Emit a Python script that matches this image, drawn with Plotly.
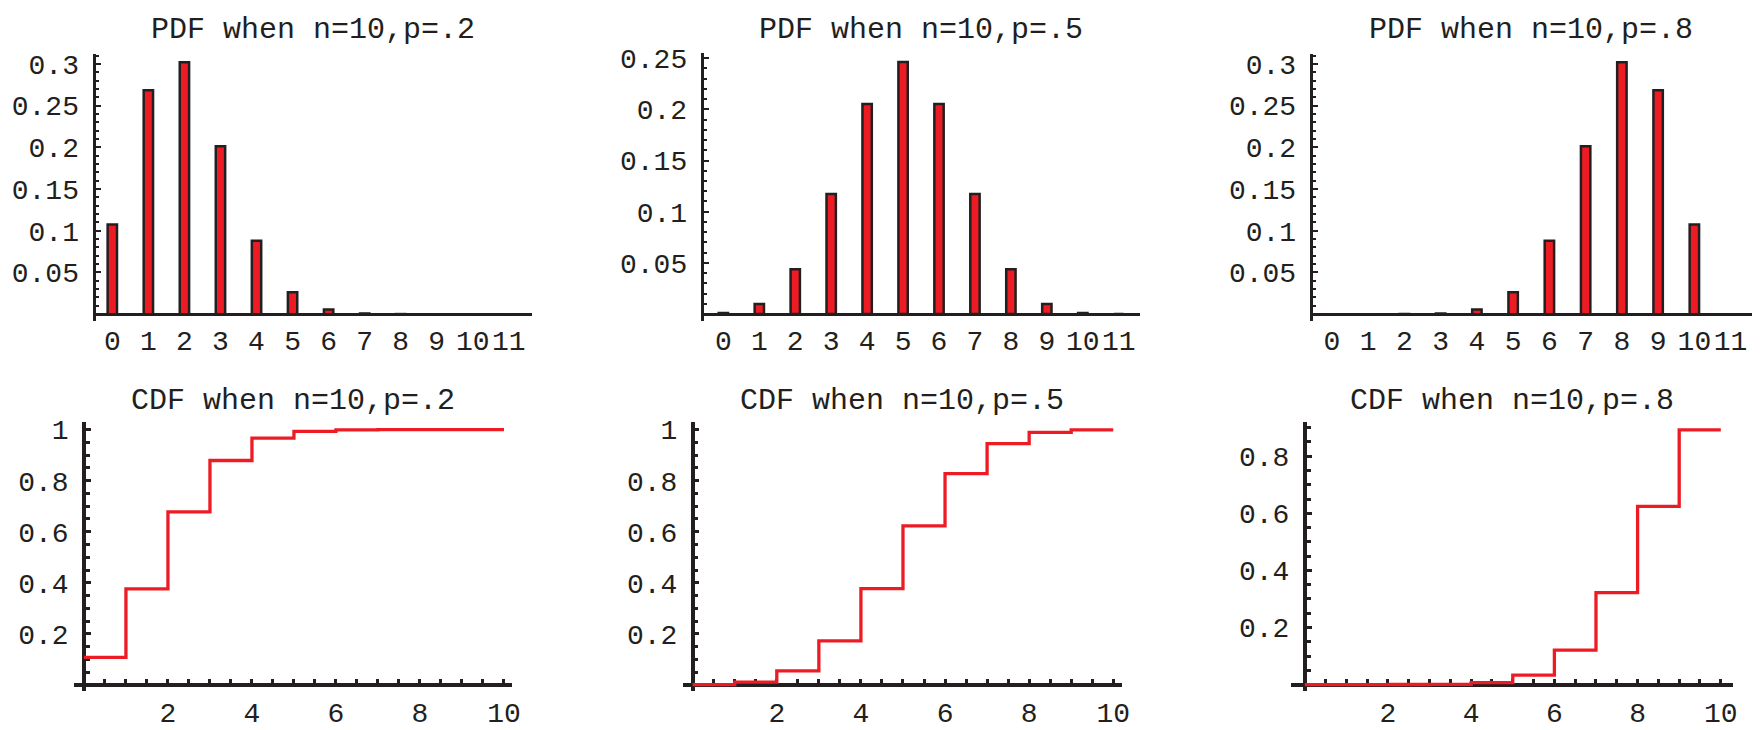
import plotly.graph_objects as go

W, H = 1760, 730

# ---------------- data ----------------
k_values = [0, 1, 2, 3, 4, 5, 6, 7, 8, 9, 10, 11]
k_ticktext = ["0", "1", "2", "3", "4", "5", "6", "7", "8", "9", "10", "11"]

pdf_p2 = [0.1074, 0.2684, 0.3020, 0.2013, 0.0881, 0.0264, 0.0055, 0.0008, 0.0001, 0.0000, 0.0000, 0.0]
pdf_p5 = [0.0010, 0.0098, 0.0439, 0.1172, 0.2051, 0.2461, 0.2051, 0.1172, 0.0439, 0.0098, 0.0010, 0.0]
pdf_p8 = [0.0000, 0.0000, 0.0001, 0.0008, 0.0055, 0.0264, 0.0881, 0.2013, 0.3020, 0.2684, 0.1074, 0.0]

cdf_x = [0, 1, 2, 3, 4, 5, 6, 7, 8, 9, 10]
cdf_p2 = [0.1074, 0.3758, 0.6778, 0.8791, 0.9672, 0.9936, 0.9991, 0.9999, 1.0000, 1.0000, 1.0000]
cdf_p5 = [0.0010, 0.0107, 0.0547, 0.1719, 0.3770, 0.6230, 0.8281, 0.9453, 0.9893, 0.9990, 0.9990]
cdf_p8 = [0.0000, 0.0000, 0.0001, 0.0009, 0.0064, 0.0328, 0.1209, 0.3222, 0.6242, 0.8926, 0.8926]

pdf_yticks_a = [0.05, 0.1, 0.15, 0.2, 0.25, 0.3]
pdf_ytext_a = ["0.05", "0.1", "0.15", "0.2", "0.25", "0.3"]
pdf_yticks_b = [0.05, 0.1, 0.15, 0.2, 0.25]
pdf_ytext_b = ["0.05", "0.1", "0.15", "0.2", "0.25"]

cdf_yticks_a = [0.2, 0.4, 0.6, 0.8, 1.0]
cdf_ytext_a = ["0.2", "0.4", "0.6", "0.8", "1"]
cdf_yticks_b = [0.2, 0.4, 0.6, 0.8]
cdf_ytext_b = ["0.2", "0.4", "0.6", "0.8"]
cdf_xticks = [2, 4, 6, 8, 10]
cdf_xtext = ["2", "4", "6", "8", "10"]

titles = ["PDF when n=10,p=.2", "PDF when n=10,p=.5", "PDF when n=10,p=.8",
          "CDF when n=10,p=.2", "CDF when n=10,p=.5", "CDF when n=10,p=.8"]

# ---------------- style ----------------
RED = "#ED1C24"
DARK = "#231F20"
FONT = "Liberation Mono"
TICK_SIZE = 28
TITLE_SIZE = 30

# panel geometry in pixels (left, right, top, bottom) and axis ranges
panels = [
    dict(kind="pdf", px=(94, 534, 47, 320), xr=(-0.52, 11.63), yr=(-0.0082, 0.312),
         y=pdf_p2, yt=pdf_yticks_a, ytt=pdf_ytext_a),
    dict(kind="pdf", px=(705, 1145.5, 46, 320), xr=(-0.60, 11.60), yr=(-0.0067, 0.255),
         y=pdf_p5, yt=pdf_yticks_b, ytt=pdf_ytext_b),
    dict(kind="pdf", px=(1316.7, 1760, 47, 320), xr=(-0.585, 11.59), yr=(-0.0082, 0.312),
         y=pdf_p8, yt=pdf_yticks_a, ytt=pdf_ytext_a),
    dict(kind="cdf", px=(74.2, 514.7, 423.3, 698), xr=(-0.24, 10.2), yr=(-0.023, 1.03),
         y=cdf_p2, yt=cdf_yticks_a, ytt=cdf_ytext_a),
    dict(kind="cdf", px=(685.7, 1126.8, 423.3, 698), xr=(-0.24, 10.2), yr=(-0.023, 1.03),
         y=cdf_p5, yt=cdf_yticks_a, ytt=cdf_ytext_a),
    dict(kind="cdf", px=(1296.5, 1741.2, 423.3, 698), xr=(-0.34, 10.3), yr=(-0.0216, 0.92),
         y=cdf_p8, yt=cdf_yticks_b, ytt=cdf_ytext_b),
]

fig = go.Figure()
layout = dict(
    width=W, height=H,
    margin=dict(l=0, r=0, t=0, b=0),
    paper_bgcolor="white", plot_bgcolor="white",
    showlegend=False,
    font=dict(family=FONT, color=DARK),
    annotations=[],
)

for i, p in enumerate(panels):
    n = i + 1
    xa = "x" if n == 1 else f"x{n}"
    ya = "y" if n == 1 else f"y{n}"
    l, r, t, b = p["px"]
    dx = [l / W, r / W]
    dy = [1 - b / H, 1 - t / H]
    x0, x1 = p["xr"]
    y0, y1 = p["yr"]
    # paper position of data zero on each axis
    y_zero_paper = dy[0] + (0 - y0) / (y1 - y0) * (dy[1] - dy[0])
    x_zero_paper = dx[0] + (0 - x0) / (x1 - x0) * (dx[1] - dx[0])

    if p["kind"] == "pdf":
        fig.add_trace(go.Bar(
            x=k_values, y=p["y"], width=0.26,
            marker=dict(color=RED, line=dict(color=DARK, width=2.5)),
            xaxis=xa, yaxis=ya, hoverinfo="skip"))
        xaxis = dict(domain=dx, range=[x0, x1], anchor="free", position=y_zero_paper,
                     showline=True, linecolor=DARK, linewidth=3, ticks="",
                     tickmode="array", tickvals=k_values, ticktext=k_ticktext,
                     tickfont=dict(family=FONT, size=TICK_SIZE, color=DARK),
                     ticklabelstandoff=0, layer="below traces",
                     showgrid=False, zeroline=False)
        yaxis = dict(domain=dy, range=[y0, y1], anchor="free", position=dx[0],
                     showline=True, linecolor=DARK, linewidth=3,
                     ticks="inside", ticklen=5, tickwidth=2, tickcolor=DARK,
                     tickmode="array", tickvals=p["yt"], ticktext=p["ytt"],
                     tickfont=dict(family=FONT, size=TICK_SIZE, color=DARK),
                     ticklabelstandoff=8, layer="below traces",
                     minor=dict(tickmode="linear", tick0=0, dtick=0.01, ticks="inside",
                                ticklen=3, tickwidth=1.5, tickcolor=DARK, showgrid=False),
                     showgrid=False, zeroline=False)
    else:
        fig.add_trace(go.Scatter(
            x=cdf_x, y=p["y"], mode="lines", line=dict(color=RED, width=3.3, shape="hv"),
            xaxis=xa, yaxis=ya, hoverinfo="skip"))
        xaxis = dict(domain=dx, range=[x0, x1], anchor="free", position=y_zero_paper,
                     showline=True, linecolor=DARK, linewidth=3.5,
                     ticks="inside", ticklen=4, tickwidth=2.5, tickcolor=DARK,
                     tickmode="array", tickvals=cdf_xticks, ticktext=cdf_xtext,
                     tickfont=dict(family=FONT, size=TICK_SIZE, color=DARK),
                     ticklabelstandoff=2, layer="below traces",
                     minor=dict(tickmode="linear", tick0=0, dtick=0.5, ticks="inside",
                                ticklen=4, tickwidth=2.5, tickcolor=DARK, showgrid=False),
                     showgrid=False, zeroline=False)
        yaxis = dict(domain=dy, range=[y0, y1], anchor="free", position=x_zero_paper,
                     showline=True, linecolor=DARK, linewidth=3.5,
                     ticks="inside", ticklen=5, tickwidth=2.5, tickcolor=DARK,
                     tickmode="array", tickvals=p["yt"], ticktext=p["ytt"],
                     tickfont=dict(family=FONT, size=TICK_SIZE, color=DARK),
                     ticklabelstandoff=8, layer="below traces",
                     minor=dict(tickmode="linear", tick0=0, dtick=0.05, ticks="inside",
                                ticklen=4, tickwidth=2.5, tickcolor=DARK, showgrid=False),
                     showgrid=False, zeroline=False)

    layout["xaxis" if n == 1 else f"xaxis{n}"] = xaxis
    layout["yaxis" if n == 1 else f"yaxis{n}"] = yaxis

    title_y = 22 if p["kind"] == "pdf" else 402
    layout["annotations"].append(dict(
        text=titles[i], xref="paper", yref="paper",
        x=(dx[0] + dx[1]) / 2, y=1 - title_y / H,
        xanchor="center", yanchor="middle", showarrow=False,
        font=dict(family=FONT, size=TITLE_SIZE, color=DARK)))

fig.update_layout(**layout)
fig.write_html(
    "out.html",
    config={"displayModeBar": False},
    post_script="document.body.style.margin='0px';document.body.style.overflow='hidden';",
)
